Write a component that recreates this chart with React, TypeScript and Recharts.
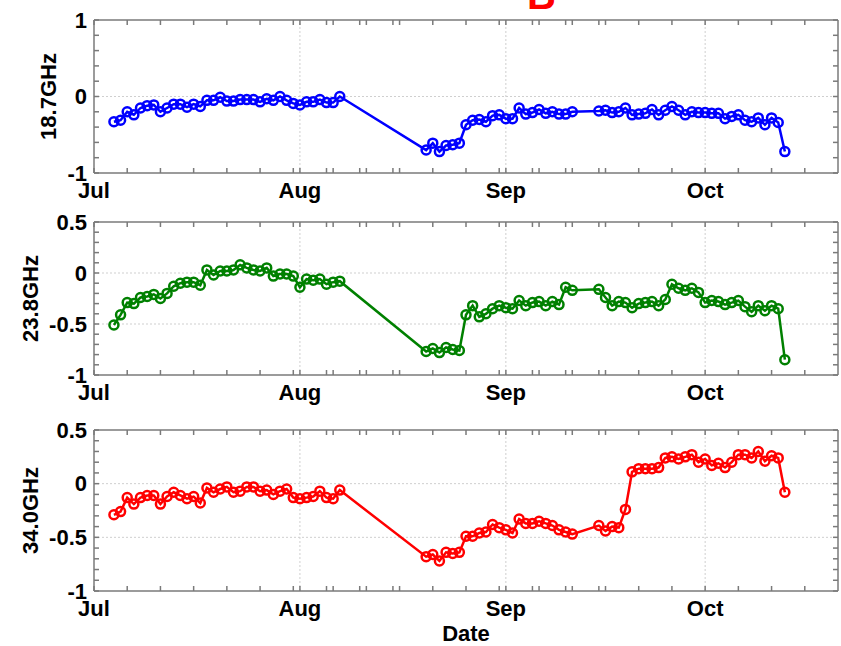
import { Line, LineChart, ReferenceLine, XAxis, YAxis } from "recharts";

// day offsets from Jul 1
const DAYS = [
  3, 4, 5, 6, 7, 8, 9, 10, 11, 12, 13, 14, 15, 16, 17, 18, 19, 20, 21, 22, 23, 24, 25, 26, 27, 28, 29, 30, 31, 32, 33, 34, 35, 36, 37,
  50, 51, 52, 53, 54, 55, 56, 57, 58, 59, 60, 61, 62, 63, 64, 65, 66, 67, 68, 69, 70, 71, 72,
  76, 77, 78, 79, 80, 81, 82, 83, 84, 85, 86, 87, 88, 89, 90, 91, 92, 93, 94, 95, 96, 97, 98, 99, 100, 101, 102, 103, 104,
];

const GHZ_187 = [
  -0.33, -0.31, -0.2, -0.24, -0.15, -0.12, -0.11, -0.2, -0.15, -0.1, -0.1, -0.14, -0.1, -0.13, -0.05, -0.05, -0.01, -0.06, -0.06, -0.04, -0.04, -0.04, -0.07, -0.03, -0.05, 0.0, -0.05, -0.09, -0.11, -0.07, -0.07, -0.04, -0.08, -0.08, 0.0,
  -0.7, -0.61, -0.72, -0.64, -0.63, -0.61, -0.37, -0.31, -0.3, -0.33, -0.25, -0.24, -0.29, -0.29, -0.15, -0.23, -0.21, -0.17, -0.22, -0.2, -0.23, -0.23, -0.2,
  -0.19, -0.18, -0.21, -0.2, -0.15, -0.24, -0.23, -0.22, -0.17, -0.24, -0.18, -0.13, -0.18, -0.24, -0.2, -0.21, -0.21, -0.22, -0.22, -0.29, -0.26, -0.24, -0.31, -0.33, -0.28, -0.37, -0.28, -0.34, -0.72,
];

const GHZ_238 = [
  -0.51, -0.41, -0.29, -0.3, -0.24, -0.23, -0.21, -0.25, -0.2, -0.13, -0.1, -0.09, -0.09, -0.12, 0.03, -0.02, 0.02, 0.02, 0.03, 0.08, 0.05, 0.03, 0.02, 0.05, -0.03, -0.01, -0.01, -0.03, -0.14, -0.06, -0.07, -0.06, -0.11, -0.09, -0.08,
  -0.77, -0.74, -0.78, -0.73, -0.75, -0.76, -0.41, -0.32, -0.43, -0.4, -0.35, -0.32, -0.34, -0.35, -0.27, -0.32, -0.29, -0.28, -0.32, -0.28, -0.31, -0.14, -0.17,
  -0.16, -0.24, -0.32, -0.28, -0.29, -0.34, -0.3, -0.29, -0.28, -0.32, -0.26, -0.11, -0.15, -0.17, -0.15, -0.19, -0.29, -0.27, -0.28, -0.31, -0.29, -0.27, -0.33, -0.38, -0.32, -0.37, -0.32, -0.35, -0.85,
];

const GHZ_340 = [
  -0.29, -0.26, -0.13, -0.19, -0.13, -0.11, -0.11, -0.19, -0.12, -0.08, -0.11, -0.14, -0.12, -0.18, -0.04, -0.08, -0.05, -0.03, -0.08, -0.07, -0.03, -0.03, -0.07, -0.06, -0.1, -0.07, -0.05, -0.13, -0.14, -0.13, -0.12, -0.07, -0.13, -0.14, -0.06,
  -0.68, -0.66, -0.72, -0.64, -0.65, -0.64, -0.49, -0.49, -0.46, -0.45, -0.38, -0.41, -0.43, -0.46, -0.33, -0.37, -0.37, -0.35, -0.37, -0.39, -0.43, -0.45, -0.47,
  -0.39, -0.44, -0.4, -0.41, -0.24, 0.11, 0.14, 0.14, 0.14, 0.15, 0.24, 0.25, 0.23, 0.25, 0.27, 0.2, 0.23, 0.17, 0.19, 0.15, 0.2, 0.27, 0.27, 0.24, 0.3, 0.21, 0.26, 0.24, -0.08,
];

const X_TICKS = [0, 5, 10, 15, 20, 25, 30, 31, 35, 36, 40, 41, 45, 46, 51, 56, 61, 62, 66, 67, 71, 72, 76, 77, 82, 87, 92, 97, 102, 107];
const MONTHS: Record<number, string> = { 0: "Jul", 31: "Aug", 62: "Sep", 92: "Oct" };
const MONTH_LINES = [31, 62, 92];

const Y_TICKS_WIDE = [-1, -0.8, -0.6, -0.4, -0.2, 0, 0.2, 0.4, 0.6, 0.8, 1];
const Y_LABELS_WIDE = [-1, 0, 1];
const Y_TICKS_NARROW = [-1, -0.9, -0.8, -0.7, -0.6, -0.5, -0.4, -0.3, -0.2, -0.1, 0, 0.1, 0.2, 0.3, 0.4, 0.5];
const Y_LABELS_NARROW = [-1, -0.5, 0, 0.5];

const W = 841;
const H = 646;
const AXIS = "#7a7a7a";
const GRID = "#cfcfcf";
const FONT = "Arial, 'Liberation Sans', sans-serif";
const TICK_FONT = { fill: "#000", fontSize: 22, fontWeight: 700, fontFamily: FONT };

const toRows = (vals: number[]) => DAYS.map((d, i) => ({ day: d, v: vals[i] }));

interface PanelProps {
  rows: { day: number; v: number }[];
  color: string;
  name: string;
  nameX: number;
  domain: [number, number];
  yTicks: number[];
  yLabels: number[];
  plotTop: number;
  plotBottom: number;
  xAxisHeight: number;
  showDate?: boolean;
}

function Panel({ rows, color, name, nameX, domain, yTicks, yLabels, plotTop, plotBottom, xAxisHeight, showDate }: PanelProps) {
  const fmtY = (v: number) => {
    const hit = yLabels.find((l) => Math.abs(l - v) < 1e-6);
    return hit === undefined ? "" : String(hit);
  };
  const gridY = yLabels.filter((l) => l > domain[0] && l < domain[1]);
  const midY = (plotTop + plotBottom) / 2;
  return (
    <div style={{ position: "absolute", left: 0, top: 0 }}>
      <LineChart
        width={W}
        height={H}
        data={rows}
        margin={{ top: plotTop - 1, right: 2, bottom: H - plotBottom - xAxisHeight, left: 0 }}
      >
        <XAxis
          xAxisId="b"
          dataKey="day"
          type="number"
          domain={[0, 112]}
          allowDataOverflow
          ticks={X_TICKS}
          interval={0}
          tickSize={-5}
          tickMargin={14}
          height={xAxisHeight}
          stroke={AXIS}
          strokeWidth={1.5}
          tickFormatter={(d: number) => MONTHS[d] ?? ""}
          tick={TICK_FONT}
          label={
            showDate
              ? { value: "Date", position: "insideBottom", offset: 5, fill: "#000", fontSize: 22, fontWeight: 700, fontFamily: FONT }
              : undefined
          }
        />
        <XAxis
          xAxisId="t"
          orientation="top"
          dataKey="day"
          type="number"
          domain={[0, 112]}
          allowDataOverflow
          ticks={X_TICKS}
          interval={0}
          tickSize={-5}
          height={1}
          stroke={AXIS}
          strokeWidth={1.5}
          tickFormatter={() => ""}
        />
        <YAxis
          yAxisId="l"
          type="number"
          domain={domain}
          allowDataOverflow
          ticks={yTicks}
          interval={0}
          tickSize={-5}
          tickMargin={12}
          width={94}
          stroke={AXIS}
          strokeWidth={1.5}
          tickFormatter={fmtY}
          tick={TICK_FONT}
          label={{
            content: () => (
              <text
                x={nameX}
                y={midY}
                transform={`rotate(-90 ${nameX} ${midY})`}
                textAnchor="middle"
                dominantBaseline="central"
                fill="#000"
                fontSize={22}
                fontWeight={700}
                fontFamily={FONT}
              >
                {name}
              </text>
            ),
          }}
        />
        <YAxis
          yAxisId="r"
          orientation="right"
          type="number"
          domain={domain}
          allowDataOverflow
          ticks={yTicks}
          interval={0}
          tickSize={-5}
          width={1}
          stroke={AXIS}
          strokeWidth={1.5}
          tickFormatter={() => ""}
        />
        {MONTH_LINES.map((m) => (
          <ReferenceLine key={`m${m}`} x={m} xAxisId="b" yAxisId="l" stroke={GRID} strokeDasharray="2 2" />
        ))}
        {gridY.map((g) => (
          <ReferenceLine key={`g${g}`} y={g} xAxisId="b" yAxisId="l" stroke={GRID} strokeDasharray="2 2" />
        ))}
        <Line
          xAxisId="b"
          yAxisId="l"
          dataKey="v"
          stroke={color}
          strokeWidth={2.5}
          dot={{ r: 4.5, stroke: color, strokeWidth: 2.5, fill: "none" }}
          activeDot={false}
          isAnimationActive={false}
        />
      </LineChart>
    </div>
  );
}

export default function App() {
  return (
    <div style={{ position: "absolute", left: 0, top: 0, width: W, height: H, background: "#fff" }}>
      <Panel
        rows={toRows(GHZ_187)}
        color="#0000ff"
        name="18.7GHz"
        nameX={48}
        domain={[-1, 1]}
        yTicks={Y_TICKS_WIDE}
        yLabels={Y_LABELS_WIDE}
        plotTop={20}
        plotBottom={173}
        xAxisHeight={40}
      />
      <Panel
        rows={toRows(GHZ_238)}
        color="#008000"
        name="23.8GHz"
        nameX={30}
        domain={[-1, 0.5]}
        yTicks={Y_TICKS_NARROW}
        yLabels={Y_LABELS_NARROW}
        plotTop={222}
        plotBottom={375}
        xAxisHeight={40}
      />
      <Panel
        rows={toRows(GHZ_340)}
        color="#ff0000"
        name="34.0GHz"
        nameX={30}
        domain={[-1, 0.5]}
        yTicks={Y_TICKS_NARROW}
        yLabels={Y_LABELS_NARROW}
        plotTop={430}
        plotBottom={591}
        xAxisHeight={55}
        showDate
      />
      <svg width={W} height={40} style={{ position: "absolute", left: 0, top: 0 }}>
        <text x={527} y={9} fill="#ff0000" fontSize={40} fontWeight={700} fontFamily={FONT}>
          B
        </text>
      </svg>
    </div>
  );
}
